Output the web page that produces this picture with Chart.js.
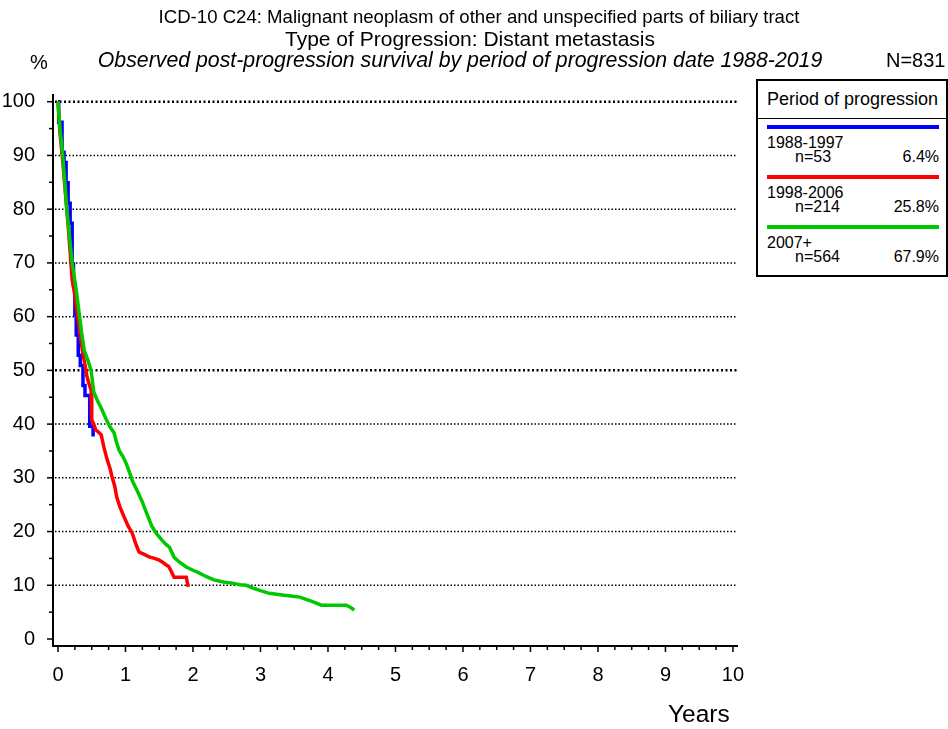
<!DOCTYPE html>
<html>
<head>
<meta charset="utf-8">
<script src="https://cdn.jsdelivr.net/npm/chart.js@4"></script>
<style>
  body { margin: 0; background: #fff; }
  #wrap { position: relative; width: 948px; height: 729px; overflow: hidden; font-family: "Liberation Sans", Arial, sans-serif; color: #000; }
  #wrap canvas { position: absolute; left: 0; top: 0; }
  .t { position: absolute; white-space: nowrap; line-height: 1; }
  .c { transform: translateX(-50%); }
  #legend { position: absolute; left: 756px; top: 79px; width: 188px; height: 194px; border: 2px solid #000; background: #fff; }
  #legend .hdr { position: absolute; left: 0; top: 0; width: 100%; height: 37px; border-bottom: 1px solid #000; }
  #legend .row { position: absolute; left: 9px; width: 172px; font-size: 16px; }
  #legend .sw { height: 4px; width: 172px; }
  #legend .nm { position: absolute; left: 0; top: 9px; white-space: nowrap; }
  #legend .n { position: absolute; left: 28px; top: 23px; white-space: nowrap; }
  #legend .p { position: absolute; right: 0; top: 23px; white-space: nowrap; }
</style>
</head>
<body>
<div id="wrap">
  <canvas id="km" width="948" height="729"></canvas>
  <div class="t c" style="left:479px; top:8px; font-size:18.6px;">ICD-10 C24: Malignant neoplasm of other and unspecified parts of biliary tract</div>
  <div class="t c" style="left:470px; top:28px; font-size:21px;">Type of Progression: Distant metastasis</div>
  <div class="t c" style="left:460px; top:50px; font-size:21.3px; font-style:italic;">Observed post-progression survival by period of progression date 1988-2019</div>
  <div class="t" style="left:30px; top:52px; font-size:20px;">%</div>
  <div class="t" style="left:886px; top:50px; font-size:20px;">N=831</div>
  <div class="t" style="left:668px; top:702px; font-size:24.5px;">Years</div>
  <div id="legend"></div>
</div>
<script>
// Periodos y colores
const periods = ['1988-1997', '1998-2006', '2007+'];
const periodN = ['n=53', 'n=214', 'n=564'];
const periodPct = ['6.4%', '25.8%', '67.9%'];
const periodColors = ['#0000ff', '#ff0000', '#00c800'];

// Ejes
const xTicks = [0, 1, 2, 3, 4, 5, 6, 7, 8, 9, 10];
const yTicks = [0, 10, 20, 30, 40, 50, 60, 70, 80, 90, 100];

// Curvas de supervivencia (años, %)
const blueX = [0, 0.01, 0.06, 0.09, 0.12, 0.15, 0.18, 0.21, 0.23, 0.25, 0.27, 0.30, 0.33, 0.37, 0.40, 0.47, 0.52];
const blueY = [100, 96.2, 90.6, 88.7, 84.9, 81.1, 77.4, 69.8, 66.0, 60.4, 56.6, 52.8, 50.9, 47.2, 45.3, 39.6, 37.7];

const redX = [0, 0.03, 0.07, 0.11, 0.15, 0.18, 0.21, 0.25, 0.28, 0.32, 0.36, 0.40, 0.43, 0.46, 0.49, 0.50, 0.53, 0.56, 0.60, 0.64, 0.68, 0.73, 0.77, 0.80, 0.84, 0.87, 0.92, 0.98, 1.04, 1.10, 1.15, 1.20, 1.27, 1.35, 1.43, 1.50, 1.56, 1.60, 1.64, 1.67, 1.72, 1.80, 1.90, 1.93];
const redY = [100, 94, 89, 83, 77, 72, 66.8, 64, 61, 57.5, 53.8, 51, 48.8, 47.5, 46.3, 40.8, 40, 38.9, 38.5, 38, 35.7, 33.3, 31.8, 30.2, 28.5, 26.4, 24.5, 22.7, 21, 19.7, 17.8, 16.2, 15.8, 15.3, 15, 14.7, 14.2, 13.8, 13.5, 12.8, 11.5, 11.5, 11.5, 9.7];

const greenX = [0, 0.03, 0.07, 0.13, 0.21, 0.27, 0.31, 0.35, 0.39, 0.44, 0.49, 0.53, 0.58, 0.64, 0.71, 0.77, 0.83, 0.87, 0.91, 0.96, 1.01, 1.06, 1.10, 1.17, 1.24, 1.31, 1.39, 1.46, 1.54, 1.60, 1.65, 1.72, 1.80, 1.90, 2.00, 2.09, 2.20, 2.31, 2.45, 2.58, 2.70, 2.79, 2.88, 3.00, 3.13, 3.32, 3.45, 3.58, 3.72, 3.80, 3.90, 4.10, 4.27, 4.33, 4.39];
const greenY = [100, 95, 90, 80, 70, 65, 61, 57, 53.7, 52, 50, 46, 44.5, 43, 41, 39.5, 38.4, 36.5, 35, 34, 32.7, 31, 29.5, 27.7, 25.8, 23.5, 21, 19.6, 18.4, 17.6, 17.1, 15.2, 14.3, 13.4, 12.8, 12.3, 11.6, 11, 10.6, 10.4, 10.1, 10, 9.5, 9, 8.5, 8.2, 8, 7.8, 7.2, 6.8, 6.3, 6.3, 6.3, 5.9, 5.4];

function pts(xs, ys) {
    return xs.map((x, i) => ({ x: x, y: ys[i] }));
}

// Leyenda en HTML
const legend = document.getElementById('legend');
let html = '<div class="hdr"><div class="t" style="left:9px; top:9px; font-size:18px;">Period of progression</div></div>';
periods.forEach((p, i) => {
    const top = 44 + i * 50;
    html += '<div class="row" style="top:' + top + 'px">' +
        '<div class="sw" style="background:' + periodColors[i] + '"></div>' +
        '<div class="nm">' + p + '</div>' +
        '<div class="n">' + periodN[i] + '</div>' +
        '<div class="p">' + periodPct[i] + '</div></div>';
});
legend.innerHTML = html;

// Rejilla punteada y marcas de los ejes
const axisDecor = {
    id: 'axisDecor',
    beforeDatasetsDraw(chart) {
        const { ctx, chartArea, scales } = chart;
        ctx.save();
        ctx.strokeStyle = '#000';
        yTicks.forEach(v => {
            if (v === 0) return;
            const y = scales.y.getPixelForValue(v);
            const bold = (v === 50 || v === 100);
            ctx.lineWidth = bold ? 2.5 : 1.5;
            ctx.setLineDash(bold ? [2, 2.5] : [1.5, 2]);
            ctx.beginPath();
            ctx.moveTo(chartArea.left + 2, y);
            ctx.lineTo(chartArea.right, y);
            ctx.stroke();
        });
        ctx.restore();
    },
    afterDraw(chart) {
        const { ctx, chartArea, scales } = chart;
        ctx.save();
        ctx.strokeStyle = '#000';
        ctx.lineWidth = 1.5;
        for (let v = 0; v <= 100; v += 5) {
            const y = scales.y.getPixelForValue(v);
            const len = v % 10 === 0 ? 6 : 4;
            ctx.beginPath();
            ctx.moveTo(chartArea.left - len, y);
            ctx.lineTo(chartArea.left, y);
            ctx.stroke();
        }
        for (let v = 0; v <= 10; v += 0.25) {
            const x = scales.x.getPixelForValue(v);
            const len = Number.isInteger(v) ? 6 : 4;
            ctx.beginPath();
            ctx.moveTo(x, chartArea.bottom);
            ctx.lineTo(x, chartArea.bottom + len);
            ctx.stroke();
        }
        ctx.restore();
    }
};

const seriesX = [blueX, redX, greenX];
const seriesY = [blueY, redY, greenY];

const ctx = document.getElementById('km').getContext('2d');
const kmChart = new Chart(ctx, {
    type: 'line',
    data: {
        datasets: periods.map((p, i) => ({
            label: p,
            data: pts(seriesX[i], seriesY[i]),
            borderColor: periodColors[i],
            backgroundColor: periodColors[i],
            borderWidth: 3.5,
            pointRadius: 0,
            tension: 0,
            stepped: i === 0,
            fill: false,
            order: 3 - i
        }))
    },
    options: {
        responsive: false,
        animation: false,
        layout: { padding: { top: 95, right: 211, left: 0, bottom: 0 } },
        plugins: { legend: { display: false }, tooltip: { enabled: false } },
        scales: {
            x: {
                type: 'linear',
                min: -0.074,
                max: 10.06,
                afterBuildTicks: s => { s.ticks = xTicks.map(v => ({ value: v })); },
                afterFit: s => { s.height = 83; },
                grid: { display: false },
                border: { display: true, color: '#000', width: 2 },
                ticks: {
                    color: '#000',
                    padding: 9,
                    maxRotation: 0,
                    font: { family: 'Liberation Sans, Arial', size: 20 },
                    callback: v => String(v)
                }
            },
            y: {
                type: 'linear',
                min: -1.3,
                max: 101.25,
                afterBuildTicks: s => { s.ticks = yTicks.map(v => ({ value: v })); },
                afterFit: s => { s.width = 53; },
                grid: { display: false },
                border: { display: true, color: '#000', width: 2 },
                ticks: {
                    color: '#000',
                    padding: 10,
                    font: { family: 'Liberation Sans, Arial', size: 20 },
                    callback: v => String(v)
                }
            }
        }
    },
    plugins: [axisDecor]
});
</script>
</body>
</html>
